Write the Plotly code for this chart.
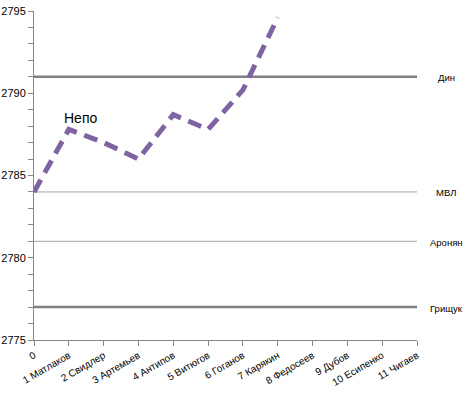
import plotly.graph_objects as go

categories = ["0", "1 Матлаков", "2 Свидлер", "3 Артемьев", "4 Антипов", "5 Витюгов",
              "6 Гоганов", "7 Карякин", "8 Федосеев", "9 Дубов", "10 Есипенко", "11 Чигаев"]
nepo_x = [0, 1, 2, 3, 4, 5, 6, 7]
nepo_values = [2784.0, 2787.8, 2787.0, 2786.0, 2788.7, 2787.8, 2790.2, 2794.6]

ref_names = ["Дин", "МВЛ", "Аронян", "Грищук"]
ref_values = [2791, 2784, 2781, 2777]
ref_widths = [2.5, 1, 1, 2.5]
ref_colors = ["#7f7f7f", "#a6a6a6", "#a6a6a6", "#7f7f7f"]

fig = go.Figure()
for name, v, w, c in zip(ref_names, ref_values, ref_widths, ref_colors):
    fig.add_trace(go.Scatter(x=[0, 11], y=[v, v], mode="lines",
                             line=dict(color=c, width=w), showlegend=False, hoverinfo="skip"))
    fig.add_annotation(x=1.0, xref="paper", y=v, yref="y", text=name, showarrow=False,
                       xanchor="center", xshift=29, yshift=-1, font=dict(size=9.5, color="black"))

fig.add_trace(go.Scatter(x=nepo_x, y=nepo_values, mode="lines",
                         line=dict(color="#8064a2", width=5, dash="14px,8px"), showlegend=False))
fig.add_annotation(x=nepo_x[1], y=nepo_values[1], text="Непо", showarrow=False,
                   yshift=11, xshift=12, font=dict(size=14, color="black"))

fig.update_layout(
    width=473, height=395,
    margin=dict(l=34, r=56, t=11, b=55),
    plot_bgcolor="white", paper_bgcolor="white",
    font=dict(family="Liberation Sans, Arial, sans-serif", size=10, color="black"),
)
fig.update_xaxes(range=[0, 11], tickvals=list(range(len(categories))), ticktext=categories,
                 tickangle=-30, showgrid=False, zeroline=False, showline=True, automargin=False,
                 linecolor="#868686", linewidth=1, ticks="outside", ticklen=5, tickcolor="#868686",
                 tickfont=dict(size=10))
fig.update_yaxes(range=[2775, 2795], dtick=5, showgrid=False, zeroline=False, showline=True,
                 automargin=False,
                 linecolor="#868686", linewidth=1, ticks="outside", ticklen=5, tickcolor="#868686",
                 tickfont=dict(size=11),
                 minor=dict(dtick=1, ticks="outside", ticklen=5, tickcolor="#868686", showgrid=False))
fig.write_html("out.html", config={"displayModeBar": False},
               post_script="document.body.style.margin='0';document.body.style.overflow='hidden';")
